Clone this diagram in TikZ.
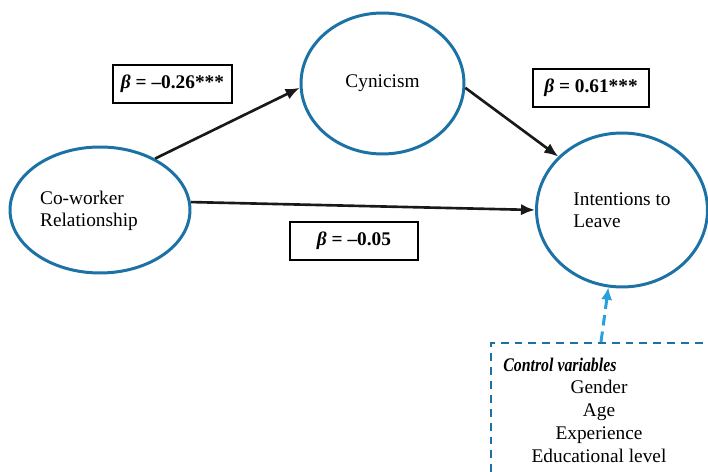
\documentclass[tikz,border=0pt]{standalone}
\usepackage{fontspec}
\setmainfont{Liberation Serif}
\usetikzlibrary{positioning,arrows.meta,calc,shapes}
\definecolor{ringblue}{RGB}{28,114,164}
\definecolor{dashblue}{RGB}{40,160,222}
\tikzset{
    construct/.style = {
        draw=ringblue,
        shape=ellipse,
        line width=1.7pt,
        align=left,
        inner sep=0pt,
        font=\fontsize{11}{12.5}\selectfont
    },
    coef/.style = {
        draw,
        shape=rectangle,
        minimum height=0.76cm,
        line width=0.6pt,
        font=\fontsize{11}{12.5}\selectfont\bfseries
    },
    controlbox/.style = {
        draw=ringblue,
        shape=rectangle,
        dash pattern=on 4.5pt off 3.4pt,
        line width=1.2pt
    },
    link/.style = {
        draw,
        black!90,
        line width=1.5pt,
        -{Latex[length=8pt,width=6.5pt]}
    },
    ctrllink/.style = {
        draw,
        dashblue,
        line width=1.7pt,
        dash pattern=on 6pt off 3.5pt,
        -{Latex[length=7pt,width=6.5pt]}
    },
}
\newcommand{\betab}{\textit{β}}

\begin{document}
\begin{tikzpicture}[x=0.02cm,y=-0.02cm]
            \useasboundingbox (0,0) rectangle (708,472);

            \node[construct, minimum width=3.6cm, minimum height=2.52cm] (cow) at (100,210) {};
            \node[align=left, inner sep=0pt, font=\fontsize{11}{12.5}\selectfont] (cowtext) at (89,211) {Co-worker\\Relationship};
            \node[construct, minimum width=3.26cm, minimum height=2.82cm] (cyn) at (382.5,83.5) {Cynicism};
            \node[construct, minimum width=3.42cm, minimum height=3.08cm] (int) at (622,210) {Intentions to\\Leave};

            \node[coef, minimum width=2.38cm] (b1) at (172.5,84) {\betab{} = –0.26***};
            \node[coef, minimum width=2.32cm] (b2) at (591,88) {\betab{} = 0.61***};
            \node[coef, minimum width=2.56cm] (b3) at (354,241) {\betab{} = –0.05};

            \node[controlbox, anchor=north west, minimum width=5.2cm, minimum height=3cm] (ctrl) at (490,342) {};
            \node[anchor=base west, inner sep=0pt, font=\fontsize{11}{12.5}\selectfont\bfseries\itshape] (ctrltitle) at (503,372) {\scalebox{0.82}[1]{Control variables}};
            \node[anchor=north, align=center, inner sep=0pt, font=\fontsize{11}{13}\selectfont] (ctrllist) at (599,380) {Gender\\Age\\Experience\\Educational level};
            \coordinate (ctrltop) at (601,342);

            \path[link] (cow.43) -- (cyn.183);
            \path[link] (cyn.357) -- (int.140);
            \path[link] (cow.5) -- (int.180);

            \path[ctrllink] (ctrltop) -- (int.260);

        \end{tikzpicture}
\end{document}
